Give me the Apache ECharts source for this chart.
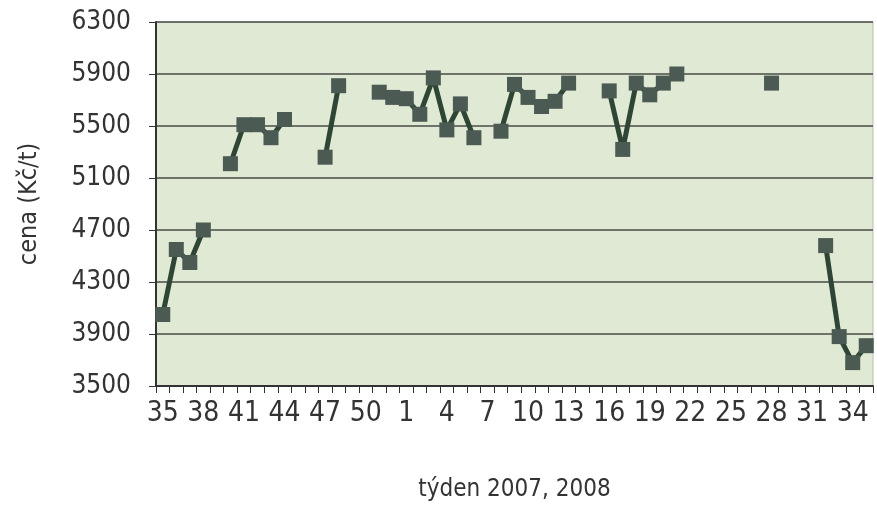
<!DOCTYPE html>
<html>
<head>
<meta charset="utf-8">
<script src="https://cdn.jsdelivr.net/npm/echarts@6/dist/echarts.min.js"></script>
<style>
  html, body { margin: 0; padding: 0; background: #fff; }
  #chart { width: 877px; height: 515px; }
</style>
</head>
<body>
<div id="chart"></div>
<script>
// weeks: 35..52 of 2007, then 1..35 of 2008
const weeks = ['35', '36', '37', '38', '39', '40', '41', '42', '43', '44', '45', '46', '47', '48', '49', '50', '51', '52',
  '1', '2', '3', '4', '5', '6', '7', '8', '9', '10', '11', '12', '13', '14', '15', '16', '17', '18', '19', '20',
  '21', '22', '23', '24', '25', '26', '27', '28', '29', '30', '31', '32', '33', '34', '35']
// price Kč/t, null = no quote that week
const prices = [4050, 4550, 4450, 4700, null, 5210, 5510, 5510, 5410, 5550, null, null, 5260, 5810, null, null, 5760, 5720,
  5710, 5590, 5870, 5470, 5670, 5410, null, 5460, 5820, 5720, 5650, 5690, 5830, null, null, 5770, 5320, 5830, 5740, 5830,
  5900, null, null, null, null, null, null, 5830, null, null, null, 4580, 3880, 3680, 3810]
// y axis ticks
const yMin = 3500
const yMax = 6300
const yStep = 400

const font = '"DejaVu Sans Condensed", "Noto Sans", sans-serif'
const myChart = echarts.init(document.getElementById('chart'))

const option = {
  animation: false,
  grid: {
    left: 156,
    right: 4,
    top: 22,
    bottom: 129,
    show: true,
    backgroundColor: '#e0e9d4',
    borderColor: '#b9bdb6',
    borderWidth: 1
  },
  xAxis: {
    type: 'category',
    data: weeks,
    boundaryGap: true,
    name: 'týden 2007, 2008',
    nameLocation: 'middle',
    nameGap: 92,
    nameTextStyle: { fontFamily: font, fontSize: 24, color: '#333' },
    axisLine: { lineStyle: { color: '#333', width: 2 } },
    axisTick: { show: true, interval: 0, length: 7, lineStyle: { color: '#333', width: 1 } },
    axisLabel: {
      interval: 2,
      margin: 14,
      fontFamily: font,
      fontSize: 28,
      color: '#333'
    },
    splitLine: { show: false }
  },
  yAxis: {
    type: 'value',
    min: yMin,
    max: yMax,
    interval: yStep,
    name: 'cena (Kč/t)',
    nameLocation: 'middle',
    nameGap: 114,
    nameRotate: 90,
    nameTextStyle: { fontFamily: font, fontSize: 25, color: '#333' },
    axisLine: { show: true, lineStyle: { color: '#333', width: 2 } },
    axisTick: { show: true, length: 7, lineStyle: { color: '#333', width: 1 } },
    axisLabel: {
      margin: 25,
      fontFamily: font,
      fontSize: 26,
      color: '#333',
      // plain numbers, no thousands separator
      formatter: function (v) { return String(v) }
    },
    splitLine: { show: true, lineStyle: { color: '#4a4d48', width: 1.5 } }
  },
  series: [
    {
      name: 'cena',
      type: 'line',
      data: prices,
      connectNulls: false,
      symbol: 'rect',
      symbolSize: 15,
      showAllSymbol: true,
      lineStyle: { color: '#2f4636', width: 5 },
      itemStyle: { color: '#4b5a52' }
    }
  ]
}

myChart.setOption(option)
</script>
</body>
</html>
